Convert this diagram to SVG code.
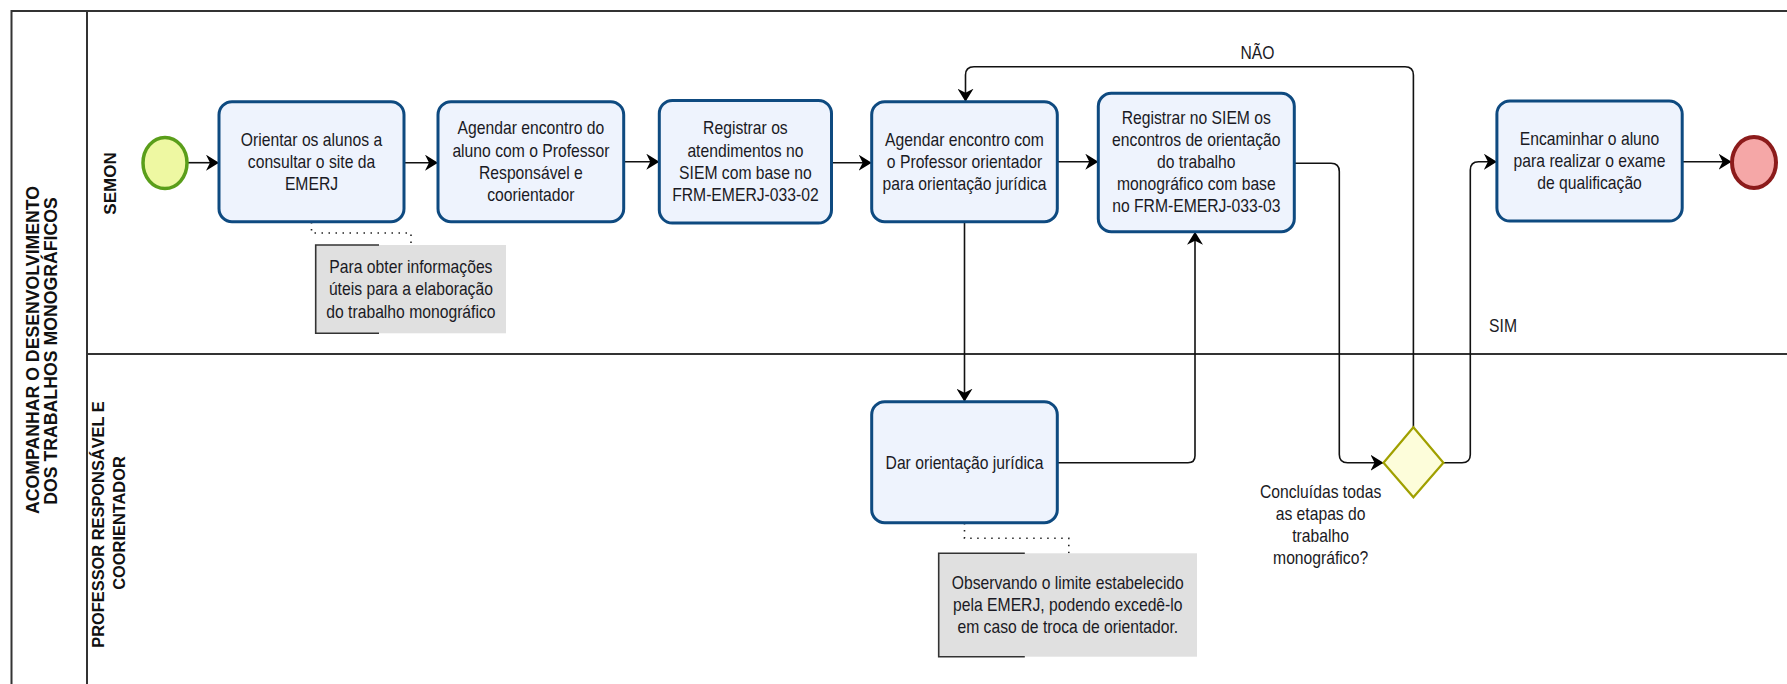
<svg xmlns="http://www.w3.org/2000/svg" width="1787" height="684" viewBox="0 0 1787 684">
<style>
.lane{fill:none;stroke:#333;stroke-width:2}
.task{fill:#EEF3FD;stroke:#0E4A80;stroke-width:3}
.t{font-family:"Liberation Sans",Arial,sans-serif;font-size:15.7px;fill:#1a1a24;text-anchor:middle}
.hd{font-family:"Liberation Sans",Arial,sans-serif;font-weight:bold;fill:#111;text-anchor:middle}
.c{fill:none;stroke:#111;stroke-width:1.6}
.note{fill:#E0E0E0;stroke:none}
.br{fill:none;stroke:#333;stroke-width:1.6}
.dot{fill:none;stroke:#222;stroke-width:1.6;stroke-dasharray:1.5 5.5}
</style>
<defs>
<marker id="arr" viewBox="0 0 13 16" refX="13" refY="8" markerWidth="13" markerHeight="16" orient="auto" markerUnits="userSpaceOnUse">
<path d="M0,0 L13,8 L0,16 L4,8 z" fill="#000"/>
</marker>
</defs>
<rect width="1787" height="684" fill="#fff"/>
<g id="pool">
<path class="lane" d="M1787,11 H11.5 V690"/>
<path class="lane" d="M87,11 V690"/>
<path class="lane" d="M87,354 H1787"/>
<text class="hd" font-size="17.7" transform="translate(39,350) rotate(-90)">ACOMPANHAR O DESENVOLVIMENTO</text>
<text class="hd" font-size="17.7" transform="translate(56.5,351) rotate(-90)">DOS TRABALHOS MONOGRÁFICOS</text>
</g>
<g id="lane-semon">
<text class="hd" font-size="17" transform="translate(115.5,183.5) rotate(-90)">SEMON</text>
</g>
<g id="lane-professor">
<text class="hd" font-size="16.4" transform="translate(104,524.5) rotate(-90)">PROFESSOR RESPONSÁVEL E</text>
<text class="hd" font-size="16.4" transform="translate(124.5,523) rotate(-90)">COORIENTADOR</text>
</g>
<g id="connectors">
<path class="c" marker-end="url(#arr)" d="M187,162.7 H219"/>
<path class="c" marker-end="url(#arr)" d="M404,162.7 H438"/>
<path class="c" marker-end="url(#arr)" d="M623.7,161.7 H659.3"/>
<path class="c" marker-end="url(#arr)" d="M831.5,162.7 H871.7"/>
<path class="c" marker-end="url(#arr)" d="M1057.3,161.7 H1098.3"/>
<path class="c" marker-end="url(#arr)" d="M964.5,221.7 V401.7"/>
<path class="c" marker-end="url(#arr)" d="M1057.3,462.7 H1188 Q1195,462.7 1195,455.7 V231.7"/>
<path class="c" marker-end="url(#arr)" d="M1294.3,163.3 H1331 Q1339.3,163.3 1339.3,171.6 V454.4 Q1339.3,462.7 1347.6,462.7 H1383.5"/>
<path class="c" marker-end="url(#arr)" d="M1413.4,427.3 V75 Q1413.4,66.7 1405,66.7 H974 Q965.5,66.7 965.5,75 V101.7"/>
<path class="c" marker-end="url(#arr)" d="M1443.4,462.7 H1462 Q1470.3,462.7 1470.3,454.4 V170 Q1470.3,161.7 1478.6,161.7 H1496.9"/>
<path class="c" marker-end="url(#arr)" d="M1682.2,161.7 H1731.6"/>
<path class="dot" d="M311.5,222 V233 H411 V245"/>
<path class="dot" d="M964.5,523 V538.3 H1068.8 V553.3"/>
<text class="t" transform="translate(1257.5,52.5) scale(1,1.155)"><tspan x="0" y="5.2">NÃO</tspan></text>
<text class="t" transform="translate(1503,325.6) scale(1,1.155)"><tspan x="0" y="5.2">SIM</tspan></text>
</g>
<g id="start">
<ellipse cx="165" cy="163" rx="22" ry="25.5" fill="#EEF8A2" stroke="#5A9E1A" stroke-width="3.5"/>
</g>
<g id="task-orientar">
<rect class="task" x="219" y="101.7" width="185" height="120" rx="13"/>
<text class="t" transform="translate(311.5,161.9) scale(1,1.155)"><tspan x="0" y="-14">Orientar os alunos a</tspan><tspan x="0" y="5.2">consultar o site da</tspan><tspan x="0" y="24.4">EMERJ</tspan></text>
</g>
<g id="task-agendar-aluno">
<rect class="task" x="438" y="101.7" width="185.7" height="120" rx="13"/>
<text class="t" transform="translate(530.9,161.7) scale(1,1.155)"><tspan x="0" y="-23.6">Agendar encontro do</tspan><tspan x="0" y="-4.4">aluno com o Professor</tspan><tspan x="0" y="14.8">Responsável e</tspan><tspan x="0" y="34">coorientador</tspan></text>
</g>
<g id="task-registrar-atendimentos">
<rect class="task" x="659.3" y="100.5" width="172.2" height="122.5" rx="13"/>
<text class="t" transform="translate(745.4,161.7) scale(1,1.155)"><tspan x="0" y="-23.6">Registrar os</tspan><tspan x="0" y="-4.4">atendimentos no</tspan><tspan x="0" y="14.8">SIEM com base no</tspan><tspan x="0" y="34">FRM-EMERJ-033-02</tspan></text>
</g>
<g id="task-agendar-professor">
<rect class="task" x="871.7" y="101.7" width="185.6" height="120" rx="13"/>
<text class="t" transform="translate(964.5,161.9) scale(1,1.155)"><tspan x="0" y="-14">Agendar encontro com</tspan><tspan x="0" y="5.2">o Professor orientador</tspan><tspan x="0" y="24.4">para orientação jurídica</tspan></text>
</g>
<g id="task-registrar-siem">
<rect class="task" x="1098.3" y="93.3" width="196" height="138.4" rx="13"/>
<text class="t" transform="translate(1196.3,162) scale(1,1.155)"><tspan x="0" y="-33.2">Registrar no SIEM os</tspan><tspan x="0" y="-14">encontros de orientação</tspan><tspan x="0" y="5.2">do trabalho</tspan><tspan x="0" y="24.4">monográfico com base</tspan><tspan x="0" y="43.6">no FRM-EMERJ-033-03</tspan></text>
</g>
<g id="task-encaminhar">
<rect class="task" x="1496.9" y="101" width="185.3" height="120" rx="13"/>
<text class="t" transform="translate(1589.5,160.7) scale(1,1.155)"><tspan x="0" y="-14">Encaminhar o aluno</tspan><tspan x="0" y="5.2">para realizar o exame</tspan><tspan x="0" y="24.4">de qualificação</tspan></text>
</g>
<g id="end">
<ellipse cx="1754" cy="162.5" rx="22" ry="25.5" fill="#F5A7A7" stroke="#8C1B1B" stroke-width="4"/>
</g>
<g id="task-dar-orientacao">
<rect class="task" x="871.7" y="401.7" width="185.6" height="121" rx="13"/>
<text class="t" transform="translate(964.5,462.7) scale(1,1.155)"><tspan x="0" y="5.2">Dar orientação jurídica</tspan></text>
</g>
<g id="gateway">
<polygon points="1413.4,427.3 1443.4,462.7 1413.4,497.3 1383.5,462.7" fill="#FDFDDA" stroke="#A0A000" stroke-width="2.2"/>
<text class="t" transform="translate(1320.6,524.8) scale(1,1.155)"><tspan x="0" y="-23.6">Concluídas todas</tspan><tspan x="0" y="-4.4">as etapas do</tspan><tspan x="0" y="14.8">trabalho</tspan><tspan x="0" y="34">monográfico?</tspan></text>
</g>
<g id="note-informacoes">
<rect class="note" x="315.7" y="245" width="190.3" height="88.3"/>
<path class="br" d="M379,245 H315.7 V333.3 H379"/>
<text class="t" transform="translate(410.9,289.1) scale(1,1.155)"><tspan x="0" y="-14.3">Para obter informações</tspan><tspan x="0" y="5.2">úteis para a elaboração</tspan><tspan x="0" y="24.7">do trabalho monográfico</tspan></text>
</g>
<g id="note-limite">
<rect class="note" x="938.7" y="553.3" width="258.3" height="103.4"/>
<path class="br" d="M1024.8,553.3 H938.7 V656.7 H1024.8"/>
<text class="t" transform="translate(1067.8,604.7) scale(1,1.155)"><tspan x="0" y="-14">Observando o limite estabelecido</tspan><tspan x="0" y="5.2">pela EMERJ, podendo excedê-lo</tspan><tspan x="0" y="24.4">em caso de troca de orientador.</tspan></text>
</g>
</svg>
